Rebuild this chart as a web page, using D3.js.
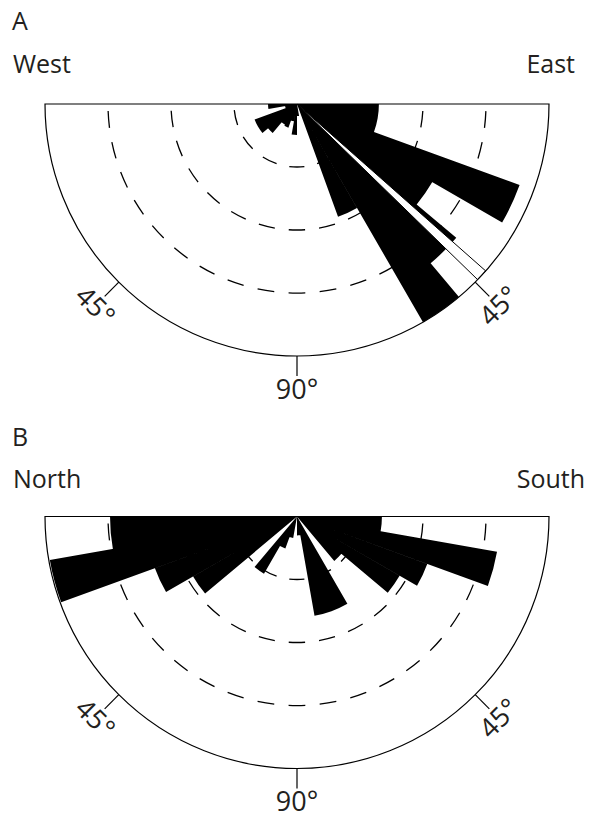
<!DOCTYPE html>
<html>
<head>
<meta charset="utf-8">
<script src="https://cdn.jsdelivr.net/npm/d3@7"></script>
<style>
  body { margin: 0; background: #fff; }
  text { font-family: "Open Sans", "Noto Sans", sans-serif; fill: #231f20; }
</style>
</head>
<body>
<svg width="589" height="818"></svg>
<script>
// bins: degrees below the horizontal, 10 degree wide
const binStarts = [0, 10, 20, 30, 40, 50, 60, 70, 80];
const binWidth = 10;

// panel A (percent of outer ring)
const aEast = [32.5, 32.5, 94, 62, 82.5, 100, 47.6, 0, 4.8];
const aWest = [11.5, 4.8, 17.9, 17.9, 15, 9.5, 10, 7, 12.3];
// narrow open band on the east side of A
const aBand = [41.5, 44.2];

// panel B
const bSouth = [33.7, 80.6, 55, 47, 23, 0, 40, 40, 7.5];
const bNorth = [74.2, 99.6, 60, 47.6, 0, 26.2, 13.5, 8.7, 0];

const gridLevels = [25, 50, 75];
const tickAngles = [45, 90, 135];   // screen angle, clockwise from east
const tickLabels = ["45°", "90°", "45°"];

const svg = d3.select("svg");
const R = 252;
const r = d3.scaleLinear().domain([0, 100]).range([0, R]);
// dip below horizontal -> d3.arc angle (0 = up, clockwise)
const rightAngle = d3.scaleLinear().domain([0, 90]).range([Math.PI / 2, Math.PI]);
const leftAngle = d3.scaleLinear().domain([0, 90]).range([3 * Math.PI / 2, Math.PI]);
const rad = d => d * Math.PI / 180;

const panels = [
  { cx: 297, cy: 104, letter: "A", left: aWest, right: aEast, leftName: "West", rightName: "East",
    band: aBand, letterY: 30, nameY: 73, nameX: 575 },
  { cx: 297, cy: 516.5, letter: "B", left: bNorth, right: bSouth, leftName: "North", rightName: "South",
    band: null, letterY: 446, nameY: 488, nameX: 585 }
];

const arc = d3.arc()
  .innerRadius(0)
  .outerRadius(d => d.r)
  .startAngle(d => d.a0)
  .endAngle(d => d.a1);

panels.forEach(p => {
  svg.append("text").attr("x", 12).attr("y", p.letterY).attr("font-size", 25).text(p.letter);
  svg.append("text").attr("x", 13).attr("y", p.nameY).attr("font-size", 25).text(p.leftName);
  svg.append("text").attr("x", p.nameX).attr("y", p.nameY)
    .attr("font-size", 25).attr("text-anchor", "end").text(p.rightName);

  const g = svg.append("g").attr("transform", `translate(${p.cx},${p.cy})`);

  // dashed rings
  gridLevels.forEach(v => {
    const rr = r(v);
    const L = Math.PI * rr;
    let n = Math.round(L / 31);
    if (n % 2 == 0) n += 1;
    const P = L / n, dash = P * 0.54;
    const path = d3.path();
    path.arc(0, 0, rr, 0, Math.PI);
    g.append("path").attr("d", path.toString())
      .attr("fill", "none").attr("stroke", "#000").attr("stroke-width", 1.3)
      .attr("stroke-dasharray", `${dash} ${P - dash}`)
      .attr("stroke-dashoffset", dash + (P - dash) / 2);
  });

  // bars - one path so neighbouring wedges don't leave hairline seams
  const bars = [];
  binStarts.forEach((b, i) => {
    bars.push({ a0: rightAngle(b), a1: rightAngle(b + binWidth), r: r(p.right[i]) });
    bars.push({ a0: leftAngle(b + binWidth), a1: leftAngle(b), r: r(p.left[i]) });
  });
  g.append("path")
    .attr("class", "bars")
    .attr("d", bars.filter(d => d.r > 0).map(d => arc(d)).join(""))
    .attr("fill", "#000").attr("fill-rule", "nonzero");

  if (p.band) {
    g.append("path")
      .attr("d", arc({ a0: rightAngle(p.band[0]), a1: rightAngle(p.band[1]), r: R }))
      .attr("fill", "#fff").attr("stroke", "#000").attr("stroke-width", 1);
  }

  // outline: semicircle closed by the horizontal line
  const outline = d3.path();
  outline.moveTo(R, 0);
  outline.arc(0, 0, R, 0, Math.PI);
  outline.closePath();
  g.append("path").attr("d", outline.toString())
    .attr("fill", "none").attr("stroke", "#000").attr("stroke-width", 1.2);

  // ticks and labels
  tickAngles.forEach((a, i) => {
    const c = Math.cos(rad(a)), s = Math.sin(rad(a));
    g.append("line")
      .attr("x1", c * R).attr("y1", s * R)
      .attr("x2", c * (R + 20)).attr("y2", s * (R + 20))
      .attr("stroke", "#000").attr("stroke-width", 1.2);
    const lr = R + 33;
    g.append("text")
      .attr("transform", `translate(${c * lr},${s * lr}) rotate(${a - 90})`)
      .attr("text-anchor", "middle").attr("dy", "0.36em")
      .attr("font-size", 27).text(tickLabels[i]);
  });
});
</script>
</body>
</html>
